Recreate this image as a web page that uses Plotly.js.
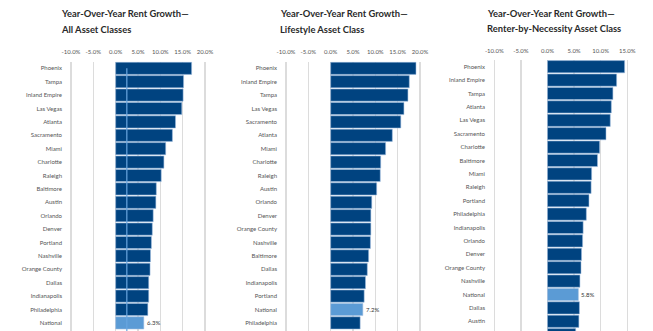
<!DOCTYPE html>
<html>
<head>
<meta charset="utf-8">
<script src="https://cdn.plot.ly/plotly-3.0.1.min.js"></script>
<style>html,body{margin:0;padding:0;background:#fff;}#chart{width:653px;height:331px;}</style>
</head>
<body>
<div id="chart"></div>
<script>
// ---- data ----
const titleLine1 = "Year-Over-Year Rent Growth—";
const titleLine2 = ["All Asset Classes", "Lifestyle Asset Class", "Renter-by-Necessity Asset Class"];
const allCities = ["Phoenix","Tampa","Inland Empire","Las Vegas","Atlanta","Sacramento","Miami","Charlotte","Raleigh","Baltimore","Austin","Orlando","Denver","Portland","Nashville","Orange County","Dallas","Indianapolis","Philadelphia","National"];
const allValues = [17.0,15.2,15.1,14.8,13.4,12.7,11.2,10.8,10.2,9.1,9.0,8.4,8.2,8.0,7.8,7.7,7.4,7.4,7.2,6.3];
const lifeCities = ["Phoenix","Inland Empire","Tampa","Las Vegas","Sacramento","Atlanta","Miami","Charlotte","Raleigh","Austin","Orlando","Denver","Orange County","Nashville","Baltimore","Dallas","Indianapolis","Portland","National","Philadelphia"];
const lifeValues = [19.1,17.6,17.3,16.4,15.7,13.8,12.3,11.2,11.1,10.3,9.2,9.0,9.0,8.9,8.5,8.2,7.8,7.5,7.2,6.6];
const rbnCities = ["Phoenix","Inland Empire","Tampa","Atlanta","Las Vegas","Sacramento","Charlotte","Baltimore","Miami","Raleigh","Portland","Philadelphia","Indianapolis","Orlando","Denver","Orange County","Nashville","National","Dallas","Austin"," "];
const rbnValues = [14.5,13.0,12.3,12.0,11.8,11.0,9.8,9.4,8.3,8.2,7.8,7.3,6.7,6.6,6.4,6.3,6.1,5.8,6.0,5.9,5.3];
const tickVals12 = [-10,-5,0,5,10,15,20];
const tickText12 = ["-10.0%","-5.0%","0.0%","5.0%","10.0%","15.0%","20.0%"];
const tickVals3 = [-10,-5,0,5,10,15];
const tickText3 = ["-10.0%","-5.0%","0.0%","5.0%","10.0%","15.0%"];
const refLineAll = 2.5;
const highlight = "National";

// ---- styling ----
const DARK = "#004380", LIGHT = "#5b9bd5";
const W = 653, H = 331;
const panels = [
  {cities: allCities, values: allValues, tv: tickVals12, tt: tickText12, xr: [-10.4, 20.4], px: [69.2, 206.8], top: 61.6, ty: [14, 29], tx: 59},
  {cities: lifeCities, values: lifeValues, tv: tickVals12, tt: tickText12, xr: [-10.4, 20.4], px: [284.2, 421.8], top: 61.6, ty: [14, 29], tx: 278},
  {cities: rbnCities, values: rbnValues, tv: tickVals3, tt: tickText3, xr: [-10.4, 15.4], px: [492.2, 629.4], top: 60.0, ty: [13.3, 28.3], tx: 485}
];
const ROW = 13.4;
const data = [];
const layout = {
  width: W, height: H, margin: {l:0, r:0, t:0, b:0},
  paper_bgcolor: "#fff", plot_bgcolor: "#fff",
  showlegend: false, bargap: 0.09,
  font: {family: "Lato, 'Open Sans', sans-serif", color: "#444"},
  annotations: [], shapes: []
};
const titleFont = {family: "Lato, sans-serif", size: 9.4, color: "#2a2a2a"};
panels.forEach((p, i) => {
  const n = i + 1;
  const xa = "x" + (n === 1 ? "" : n), ya = "y" + (n === 1 ? "" : n);
  data.push({
    type: "bar", orientation: "h", x: p.values, y: p.cities,
    xaxis: xa, yaxis: ya,
    marker: {color: p.cities.map(c => c === highlight ? LIGHT : DARK),
             line: {color: "rgba(160,190,225,0.9)", width: 0.6}},
    hoverinfo: "skip"
  });
  const plotH = H - p.top;
  const span = plotH / ROW;
  layout["xaxis" + (n === 1 ? "" : n)] = {
    domain: [p.px[0] / W, p.px[1] / W], range: p.xr, side: "top", anchor: ya,
    tickvals: p.tv, ticktext: p.tt, tickfont: {size: 6, color: "#555"},
    ticks: "outside", ticklen: 4, tickcolor: "rgba(0,0,0,0)",
    showgrid: true, gridcolor: "#dcdcdc", gridwidth: 1.2,
    zeroline: false, showline: false, fixedrange: true
  };
  layout["yaxis" + (n === 1 ? "" : n)] = {
    domain: [0, plotH / H], range: [span - 0.5, -0.5], anchor: xa, type: "category",
    tickfont: {size: 6, color: "#555"},
    ticks: "outside", ticklen: 5, tickcolor: "rgba(0,0,0,0)",
    showgrid: false, zeroline: false, showline: false, fixedrange: true
  };
  const idx = p.cities.indexOf(highlight);
  layout.annotations.push({
    xref: xa, yref: ya, x: p.values[idx], y: highlight,
    text: p.values[idx].toFixed(1) + "%", showarrow: false,
    xanchor: "left", xshift: 1, font: {size: 6, color: "#333"}
  });
  [titleLine1, titleLine2[i]].forEach((t, k) => {
    layout.annotations.push({
      xref: "paper", yref: "paper", x: p.tx / W, y: 1 - p.ty[k] / H,
      xanchor: "left", yanchor: "middle", align: "left", showarrow: false,
      text: "<b>" + t + "</b>", font: titleFont
    });
  });
});
layout.shapes.push({
  type: "line", xref: "x", yref: "paper", layer: "above",
  x0: refLineAll, x1: refLineAll, y0: 0, y1: (H - 68.3) / H,
  line: {color: "#6aa6df", width: 1.2}
});
Plotly.newPlot("chart", data, layout, {staticPlot: true, displayModeBar: false});
</script>
</body>
</html>
